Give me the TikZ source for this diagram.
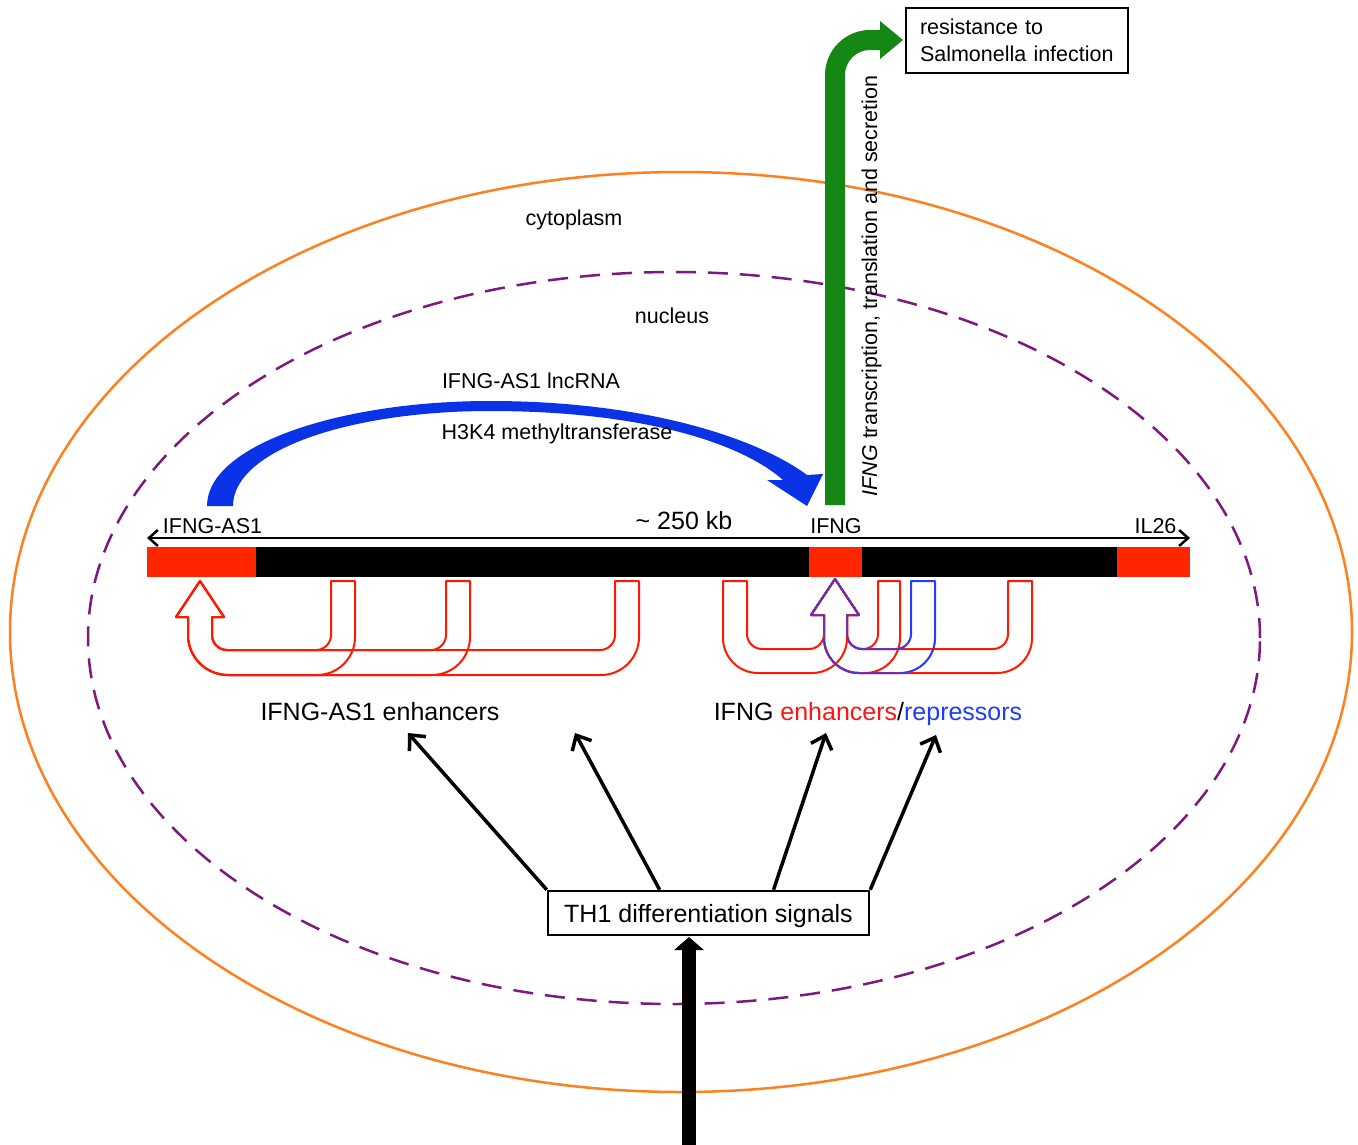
\documentclass[tikz,border=0pt]{standalone}
\usepackage{fontspec}
\setmainfont{Liberation Sans}
\usetikzlibrary{arrows.meta,calc}
\definecolor{barred}{RGB}{255,38,0}
\definecolor{loopred}{RGB}{255,25,0}
\definecolor{loopblue}{RGB}{40,60,255}
\definecolor{arrowblue}{RGB}{10,50,230}
\definecolor{arrowgreen}{RGB}{20,135,20}
\definecolor{orangec}{RGB}{255,128,30}
\definecolor{purplec}{RGB}{125,25,125}
\definecolor{txtred}{RGB}{255,20,20}
\definecolor{txtblue}{RGB}{30,60,255}
\newcommand\myLloop[2]{\draw[loopr] (#1,581) -- (#1,635) .. controls (#1,643.3) and ({#1-6.7},650) .. ({#1-15},650) -- (227,650) .. controls (218.7,650) and (212,643.3) .. (212,635) -- (212,617) -- (224,617) -- (200,581) -- (176,617) -- (188,617) -- (188,635) .. controls (188,657.1) and (205.9,675) .. (228,675) -- ({#2-38},675) .. controls ({#2-17},675) and (#2,658) .. (#2,637) -- (#2,581) -- cycle;}
\newcommand\myRloop[3]{\draw[#3] (#1,581) -- (#1,634) .. controls (#1,642.3) and ({#1-6.7},649) .. ({#1-15},649) -- (862,649) .. controls (853.7,649) and (847,642.3) .. (847,634) -- (847,615) -- (859,615) -- (835,579) -- (811,615) -- (824,615) -- (824,638) .. controls (824,657.3) and (839.7,673) .. (859,673) -- ({#2-35},673) .. controls ({#2-15.7},673) and (#2,657.3) .. (#2,638) -- (#2,581) -- cycle;}
\begin{document}
\begin{tikzpicture}[x=1pt,y=-1pt,
  small/.style={font=\fontsize{21.5}{26}\selectfont, inner sep=0pt},
  big/.style={font=\fontsize{25}{30}\selectfont, inner sep=0pt},
  loopr/.style={draw=loopred, line width=2pt, line join=round},
  loopb/.style={draw=loopblue, line width=2pt, line join=round},
  sig/.style={line width=3.5pt, -{Straight Barb[length=12pt,width=22pt,line width=3.5pt]}},
  dbl/.style={line width=2.5pt, {Straight Barb[length=9pt,width=16pt]}-{Straight Barb[length=9pt,width=16pt]}},
]
\useasboundingbox (0,0) rectangle (1358,1144);
\fill[white] (0,0) rectangle (1358,1144);
% compartments
\draw[orangec, line width=2.5pt] (681,632) ellipse [x radius=671pt, y radius=460pt];
\draw[purplec, line width=2.5pt, dash pattern=on 20pt off 12pt] (674,638) ellipse [x radius=586pt, y radius=366pt];
\node[small, anchor=base] (cyto) at (574,225) {cytoplasm};
\node[small, anchor=base] (nuc) at (672,323) {nucleus};
% chromosome
\fill[black] (147,547) rectangle (1190,577);
\fill[barred] (147,547) rectangle (256,577);
\fill[barred] (809,547) rectangle (862,577);
\fill[barred] (1117,547) rectangle (1190,577);
\coordinate (chrL) at (147,538);
\coordinate (chrR) at (1190,538);
\draw[dbl] (chrL) -- (chrR);
\node[small, anchor=base] (lasl) at (212.5,533) {IFNG-AS1};
\node[big, anchor=base] (kb) at (684,529) {\textasciitilde{} 250 kb};
\node[small, anchor=base] (lifng) at (836,533) {IFNG};
\node[small, anchor=base] (lil26) at (1155.5,533) {IL26};
% blue lncRNA arrow
\fill[arrowblue] (207,506) .. controls (207,445) and (340,401) .. (490,401) .. controls (650,401) and (760,440) .. (807,475) -- (823,474) -- (807,506) -- (767,480) -- (783,480) .. controls (740,442) and (640,411) .. (490,411) .. controls (350,411) and (233,450) .. (233,506) -- cycle;
\node[small, anchor=base] (lnc) at (531,388) {IFNG-AS1 lncRNA};
\node[small, anchor=base] (h3k4) at (557,439) {H3K4 methyltransferase};
% green arrow
\fill[arrowgreen] (825,505) -- (825,75) .. controls (825,50.2) and (845.2,30) .. (870,30) -- (880,30) -- (880,21) -- (903,40) -- (880,59) -- (880,50) -- (870,50) .. controls (856.2,50) and (845,61.2) .. (845,75) -- (845,505) -- cycle;
\node[small, rotate=90, anchor=base] (vt) at (877,286) {\textit{IFNG} transcription, translation and secretion};
\node[draw, line width=2.5pt, minimum width=222pt, minimum height=65pt, text width=194pt, align=left, font=\fontsize{21.5}{27}\selectfont, inner sep=0pt] (res) at (1017,40.5) {resistance to\\Salmonella infection};
% enhancer loops, IFNG-AS1
\myLloop{615}{639}
\myLloop{446}{470}
\myLloop{331}{355}
% enhancer loops, IFNG
\myRloop{911}{935}{loopb}
\draw[loopr] (747,581) -- (747,634) .. controls (747,642.3) and (753.7,649) .. (762,649) -- (809,649) .. controls (817.3,649) and (824,642.3) .. (824,634) -- (824,615) -- (811,615) -- (835,579) -- (859,615) -- (847,615) -- (847,638) .. controls (847,657.3) and (831.3,673) .. (812,673) -- (758,673) .. controls (738.7,673) and (723,657.3) .. (723,638) -- (723,581) -- cycle;
\myRloop{1008}{1032}{loopr}
\myRloop{878}{900}{loopr}
\myRloop{911}{935}{loopb,line width=1.3pt}
% labels
\node[big, anchor=base] (lenh) at (380,720) {IFNG-AS1 enhancers};
\node[big, anchor=base] (renh) at (868,720) {IFNG \textcolor{txtred}{enhancers}/\textcolor{txtblue}{repressors}};
% TH1 signals
\node[draw, line width=2.5pt, minimum width=321pt, minimum height=44pt, inner sep=0pt, text depth=0pt, font=\fontsize{25}{30}\selectfont] (th1) at (708.5,913) {TH1 differentiation signals};
\coordinate (t1) at (408,733);
\coordinate (t2) at (575,733);
\coordinate (t3) at (826,733);
\coordinate (t4) at (936,735);
\draw[sig] (th1.north west) -- (t1);
\draw[sig] ($(th1.north west)!0.349!(th1.north east)$) -- (t2);
\draw[sig] ($(th1.north west)!0.701!(th1.north east)$) -- (t3);
\draw[sig] (th1.north east) -- (t4);
\coordinate (inb) at (689,1150);
\coordinate (inbtip) at (689,937);
\draw[line width=14pt, -{Triangle[length=13pt,width=29pt]}] (inb) -- (inbtip);
\end{tikzpicture}
\end{document}
